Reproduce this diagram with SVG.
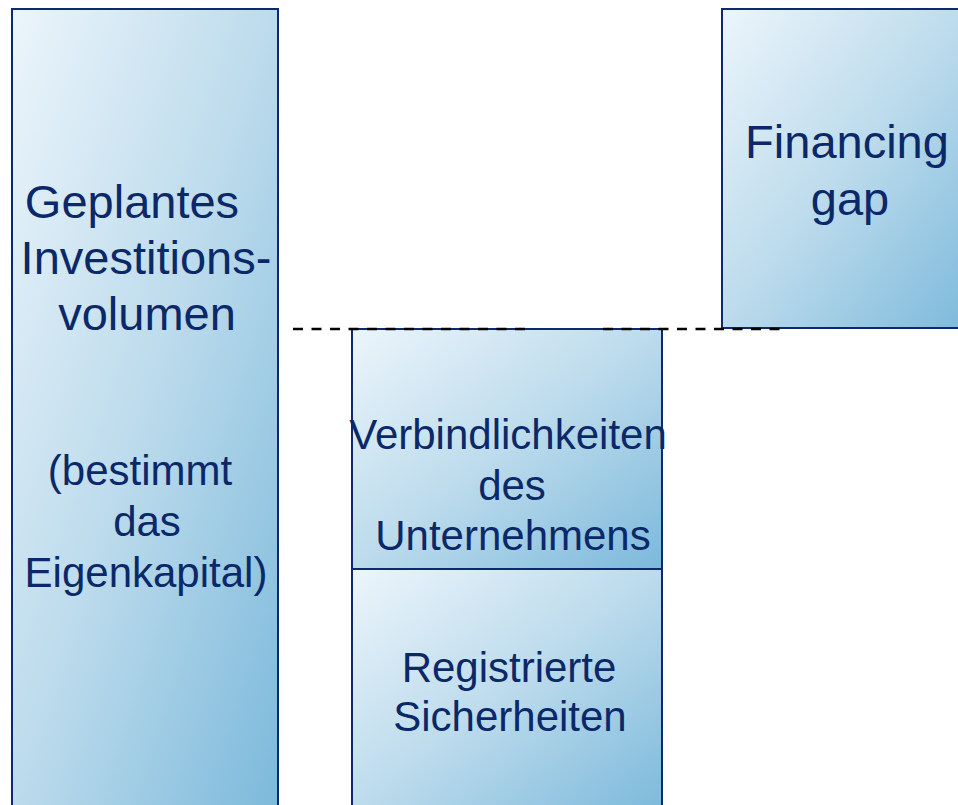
<svg xmlns="http://www.w3.org/2000/svg" width="958" height="805" viewBox="0 0 958 805">
  <defs>
    <linearGradient id="boxFill" x1="0" y1="0" x2="1" y2="1">
      <stop offset="0" stop-color="#ecf5fb"/>
      <stop offset="0.5" stop-color="#bcdbec"/>
      <stop offset="1" stop-color="#7cb9db"/>
    </linearGradient>
  </defs>
  <style>
    .box { fill: url(#boxFill); stroke: #0d2a6e; stroke-width: 2; }
    .lbl { font-family: "Liberation Sans", Arial, sans-serif; fill: #0b2868; text-anchor: middle; }
    .big { font-size: 47px; }
    .mid { font-size: 42px; }
    .dash { stroke: #000000; stroke-width: 2.5; stroke-dasharray: 10 8.5; fill: none; }
  </style>
  <rect width="958" height="805" fill="#ffffff"/>

  <g id="node-investition">
    <rect class="box" x="12" y="9" width="266" height="805"/>
    <text class="lbl big" x="132" y="218">Geplantes</text>
    <text class="lbl big" x="146" y="274">Investitions-</text>
    <text class="lbl big" x="147" y="330">volumen</text>
    <text class="lbl mid" x="140" y="485">(bestimmt</text>
    <text class="lbl mid" x="147" y="536">das</text>
    <text class="lbl mid" x="146" y="587">Eigenkapital)</text>
  </g>

  <g id="node-financing-gap">
    <rect class="box" x="722" y="9" width="250" height="319"/>
    <text class="lbl big" x="847" y="158">Financing</text>
    <text class="lbl big" x="850" y="215">gap</text>
  </g>

  <g id="node-verbindlichkeiten">
    <rect class="box" x="352" y="329" width="310" height="240"/>
    <text class="lbl mid" x="508" y="449">Verbindlichkeiten</text>
    <text class="lbl mid" x="512" y="500">des</text>
    <text class="lbl mid" x="513" y="550">Unternehmens</text>
  </g>

  <g id="node-sicherheiten">
    <rect class="box" x="352" y="569" width="310" height="245"/>
    <text class="lbl mid" x="509" y="682">Registrierte</text>
    <text class="lbl mid" x="510" y="731">Sicherheiten</text>
  </g>

  <g id="connectors">
    <line class="dash" x1="293" y1="329" x2="531" y2="329"/>
    <line class="dash" x1="603" y1="329" x2="781" y2="329"/>
  </g>
</svg>
